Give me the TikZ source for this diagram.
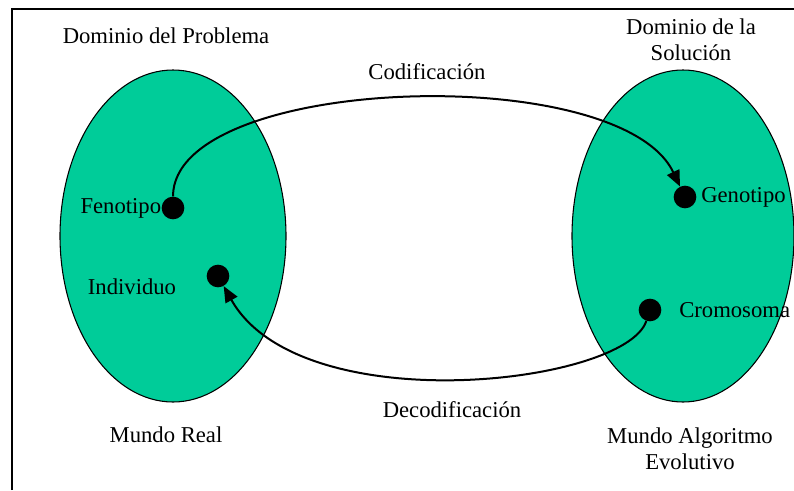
\documentclass[tikz,border=0pt]{standalone}
\usepackage{fontspec}
\setmainfont{Liberation Serif}
\usetikzlibrary{arrows.meta}
\definecolor{mundo}{RGB}{0,204,153}

\begin{document}
\begin{tikzpicture}[x=0.75pt,y=-0.75pt,
        font=\fontsize{17}{19.5}\selectfont,
        punto/.style={circle,fill=black,inner sep=0pt,minimum size=17pt},
        flecha/.style={line width=1.5pt,-{Triangle[length=12pt,width=10pt]}}]
        \useasboundingbox (0,0) rectangle (794,490);
        \draw[line width=1.5pt] (12,490) -- (12,9) -- (794,9);
        \filldraw[fill=mundo,line width=0.8pt] (173,236) ellipse [x radius=113, y radius=166];
        \filldraw[fill=mundo,line width=0.8pt] (683,236) ellipse [x radius=111, y radius=166];
        \node[punto] (feno) at (173,208) {};
        \node[punto] (geno) at (685,197) {};
        \node[punto] (indiv) at (218,276) {};
        \node[punto] (cromo) at (650,310) {};
        \node (fenolbl) at (feno.west) [left,inner sep=0pt] {Fenotipo};
        \node (genolbl) at (geno.east) [right] {Genotipo};
        \node (indivlbl) at (132,287) {Individuo};
        \node (cromolbl) at (679,310) [right,inner sep=0pt] {Cromosoma};
        \node (problema) at (166,36) {Dominio del Problema};
        \node (solucion) at (691,40) [align=center] {Dominio de la\\Solución};
        \node (codif) at (427,72) {Codificación};
        \node (decodif) at (452,410) {Decodificación};
        \node (real) at (166,435) {Mundo Real};
        \node (algoritmo) at (690,449) [align=center] {Mundo Algoritmo\\Evolutivo};
        \draw[flecha] (feno) .. controls (173,75) and (620,60) .. (geno);
        \draw[flecha] (cromo) .. controls (625,385) and (300,422) .. (indiv);
    \end{tikzpicture}
\end{document}
